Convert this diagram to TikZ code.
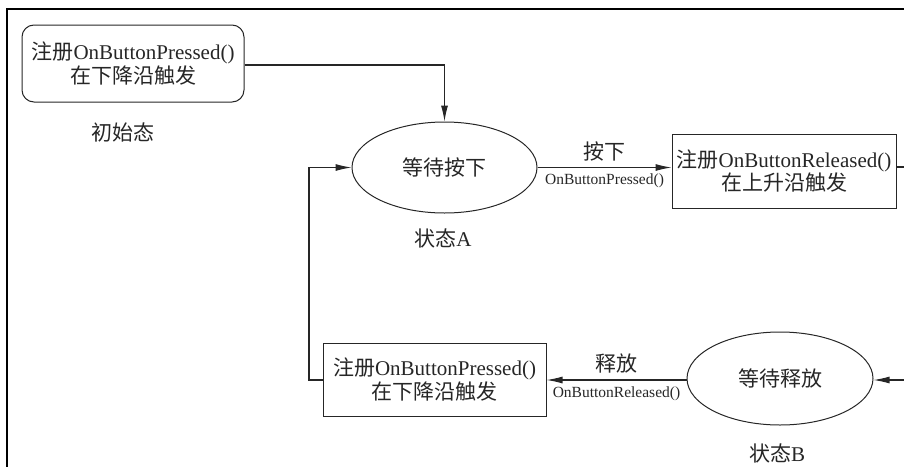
\documentclass[tikz,border=0pt]{standalone}
\usepackage{fontspec}
\setmainfont{Liberation Serif}
\newfontfamily\cjk{Noto Sans CJK SC}
\usetikzlibrary{arrows.meta,shapes.geometric}
\begin{document}
\begin{tikzpicture}[x=1pt,y=-1pt]
\tikzset{
  main/.style={font=\fontsize{21}{23.5}\selectfont, align=center, inner sep=0pt, text=black!85},
  stbox/.style={main, draw=black!85, line width=1pt, rectangle},
  stell/.style={main, draw=black!85, line width=1pt, ellipse},
  conn/.style={draw=black!85, line width=1.1pt},
  arr/.style={conn, -{Latex[length=16pt,width=7pt]}},
  small/.style={font=\fontsize{15.5}{18}\selectfont, inner sep=0pt, text=black!85},
  lbl/.style={font=\fontsize{21}{24}\selectfont, inner sep=0pt, text=black!85},
  frame/.style={draw=black, line width=2pt}
}
\useasboundingbox (0,0) rectangle (904,466);
% frame
\coordinate (f1) at (7,470);
\coordinate (f2) at (7,9);
\coordinate (f3) at (910,9);
\draw[frame] (f1) -- (f2) -- (f3);

% nodes
\node[stbox, rounded corners=12pt, minimum width=222pt, minimum height=77pt] (init) at (133,63.5)
  {{\cjk 注册}OnButtonPressed()\\{\cjk 在下降沿触发}};
\node[lbl] (initl) at (123,132) {\cjk 初始态};

\node[stell, minimum width=185pt, minimum height=91pt] (A) at (444.5,167.5) {\cjk 等待按下};
\node[lbl] (Al) at (443,238) {{\cjk 状态}A};

\node[stbox, minimum width=224pt, minimum height=74pt] (R) at (784,171)
  {{\cjk 注册}OnButtonReleased()\\{\cjk 在上升沿触发}};

\node[stell, minimum width=186pt, minimum height=93pt] (B) at (780,378.5) {\cjk 等待释放};
\node[lbl] (Bl) at (777,453) {{\cjk 状态}B};

\node[stbox, minimum width=223pt, minimum height=73pt] (P) at (434.5,379.5)
  {{\cjk 注册}OnButtonPressed()\\{\cjk 在下降沿触发}};

% connectors
\draw[arr] (init.east |- 0,65) -- (A.north |- 0,65) -- (A.north);

\draw[arr] (A.east) -- (A.east -| R.west)
  node[midway, lbl, above=6pt] (t1) {\cjk 按下}
  node[midway, small, below=6pt] (t2) {OnButtonPressed()};

\coordinate (rexit) at (910,167);
\draw[conn] (R.east |- rexit) -- (rexit);

\coordinate (bin) at (910,380);
\draw[arr] (bin) -- (B.east |- bin);

\draw[arr] (B.west |- bin) -- (P.east |- bin)
  node[midway, lbl, above=6pt] (t3) {\cjk 释放}
  node[midway, small, below=6pt] (t4) {OnButtonReleased()};

\coordinate (lpx) at (309,0);
\draw[arr] (P.west |- bin) -- (bin -| lpx) -- (A.west -| lpx) -- (A.west);
\end{tikzpicture}
\end{document}
